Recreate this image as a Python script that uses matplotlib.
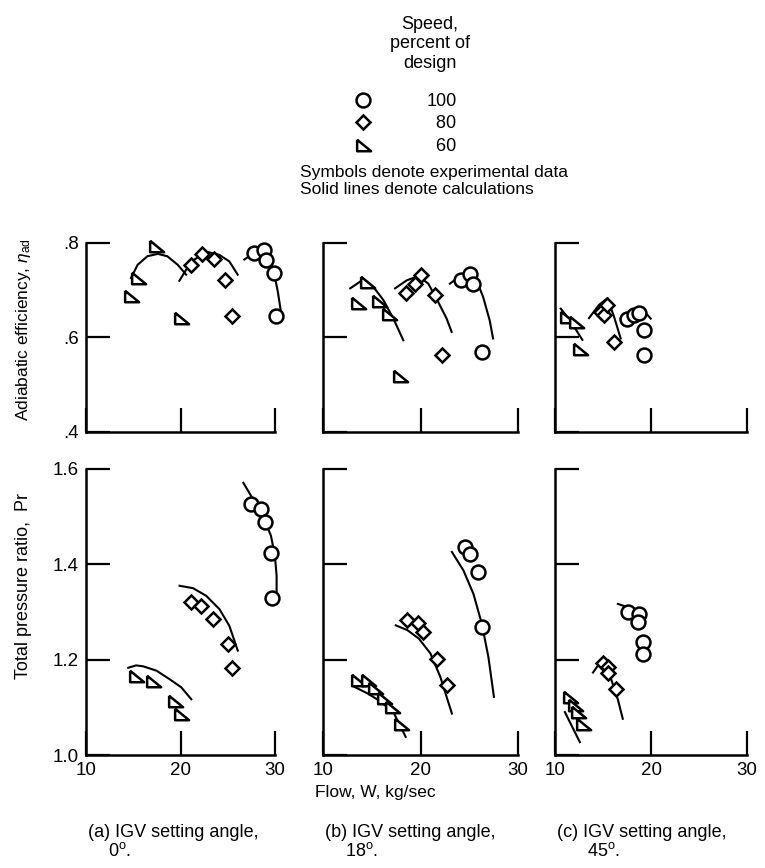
import matplotlib
matplotlib.use("Agg")
import matplotlib.pyplot as plt
from matplotlib.lines import Line2D

plt.rcParams['font.family'] = ['Liberation Sans', 'DejaVu Sans']
plt.rcParams['font.size'] = 13
plt.rcParams['mathtext.fontset'] = 'custom'
plt.rcParams['mathtext.rm'] = 'Liberation Sans'
plt.rcParams['mathtext.it'] = 'Liberation Sans:italic'

# ---- (a) IGV 0 deg ----
# efficiency: experimental points
a_eff_100_w = [27.8, 28.8, 29.0, 29.9, 30.1]
a_eff_100 = [0.779, 0.785, 0.765, 0.736, 0.646]
a_eff_80_w = [21.1, 22.3, 23.5, 24.7, 25.4]
a_eff_80 = [0.754, 0.777, 0.767, 0.722, 0.645]
a_eff_60_w = [17.4, 15.5, 14.8, 20.05]
a_eff_60 = [0.794, 0.726, 0.687, 0.642]
# efficiency: calculations
a_eff_100_cw = [26.75, 27.64, 28.52, 29.4, 29.93, 30.3, 30.6]
a_eff_100_c = [0.765, 0.777, 0.782, 0.765, 0.733, 0.697, 0.658]
a_eff_80_cw = [19.88, 20.58, 21.46, 22.87, 24.1, 25.17, 26.05]
a_eff_80_c = [0.720, 0.743, 0.765, 0.781, 0.775, 0.761, 0.733]
a_eff_60_cw = [14.76, 15.47, 16.5, 17.6, 18.6, 19.7, 20.6]
a_eff_60_c = [0.726, 0.754, 0.772, 0.777, 0.772, 0.754, 0.733]
# pressure ratio: experimental points
a_pr_100_w = [27.5, 28.5, 28.9, 29.6, 29.7]
a_pr_100 = [1.527, 1.517, 1.488, 1.424, 1.329]
a_pr_80_w = [21.1, 22.2, 23.4, 25.0, 25.4]
a_pr_80 = [1.320, 1.313, 1.285, 1.233, 1.182]
a_pr_60_w = [15.3, 17.1, 19.4, 20.0]
a_pr_60 = [1.166, 1.156, 1.114, 1.086]
# pressure ratio: calculations
a_pr_100_cw = [26.65, 27.64, 28.69, 29.57, 29.99, 30.17, 30.17]
a_pr_100_c = [1.571, 1.538, 1.502, 1.460, 1.418, 1.376, 1.334]
a_pr_80_cw = [19.9, 21.32, 22.72, 24.12, 25.17, 26.06]
a_pr_80_c = [1.355, 1.350, 1.334, 1.306, 1.271, 1.219]
a_pr_60_cw = [14.47, 15.3, 16.05, 17.45, 18.85, 20.08, 21.14]
a_pr_60_c = [1.183, 1.188, 1.186, 1.177, 1.159, 1.142, 1.117]

# ---- (b) IGV 18 deg ----
b_eff_100_w = [24.2, 25.1, 25.4, 26.3]
b_eff_100 = [0.721, 0.735, 0.714, 0.569]
b_eff_80_w = [18.5, 19.4, 20.1, 21.5, 22.2]
b_eff_80 = [0.694, 0.714, 0.732, 0.691, 0.564]
b_eff_60_w = [14.5, 13.6, 15.7, 16.8, 17.9]
b_eff_60 = [0.717, 0.673, 0.677, 0.649, 0.518]
b_eff_100_cw = [23.02, 24.04, 24.89, 25.75, 26.42, 27.1, 27.44]
b_eff_100_c = [0.714, 0.730, 0.734, 0.721, 0.686, 0.636, 0.598]
b_eff_80_cw = [17.39, 18.59, 19.78, 20.8, 21.82, 22.68, 23.19]
b_eff_80_c = [0.704, 0.721, 0.730, 0.714, 0.675, 0.640, 0.612]
b_eff_60_cw = [12.79, 14.15, 15.17, 16.2, 17.22, 18.24]
b_eff_60_c = [0.704, 0.723, 0.707, 0.679, 0.640, 0.594]
b_pr_100_w = [24.6, 25.1, 25.9, 26.35]
b_pr_100 = [1.436, 1.422, 1.384, 1.269]
b_pr_80_w = [18.65, 19.7, 20.3, 21.7, 22.7]
b_pr_80 = [1.283, 1.276, 1.258, 1.202, 1.147]
b_pr_60_w = [13.6, 14.6, 15.3, 16.3, 17.1, 18.0]
b_pr_60 = [1.157, 1.157, 1.140, 1.119, 1.101, 1.066]
b_pr_100_cw = [23.22, 24.41, 25.43, 26.28, 26.96, 27.53]
b_pr_100_c = [1.426, 1.387, 1.338, 1.276, 1.206, 1.122]
b_pr_80_cw = [17.46, 18.65, 19.84, 21.02, 22.03, 23.22]
b_pr_80_c = [1.272, 1.262, 1.244, 1.213, 1.164, 1.087]
b_pr_60_cw = [13.22, 14.58, 15.93, 17.29, 18.48]
b_pr_60_c = [1.143, 1.129, 1.112, 1.087, 1.038]

# ---- (c) IGV 45 deg ----
c_eff_100_w = [17.54, 18.23, 18.75, 19.27, 19.27]
c_eff_100 = [0.640, 0.648, 0.651, 0.616, 0.563]
c_eff_80_w = [14.76, 15.1, 15.46, 16.15]
c_eff_80 = [0.655, 0.648, 0.669, 0.591]
c_eff_60_w = [11.29, 12.16, 12.6]
c_eff_60 = [0.644, 0.632, 0.576]
c_eff_100_cw = [16.84, 17.89, 18.93, 19.97]
c_eff_100_c = [0.640, 0.655, 0.664, 0.640]
c_eff_80_cw = [13.54, 14.58, 15.46, 16.15, 16.84]
c_eff_80_c = [0.641, 0.669, 0.683, 0.644, 0.598]
c_eff_60_cw = [10.6, 11.64, 12.85]
c_eff_60_c = [0.661, 0.634, 0.595]
c_pr_100_w = [17.58, 18.79, 18.62, 19.13, 19.13]
c_pr_100 = [1.299, 1.296, 1.278, 1.238, 1.212]
c_pr_80_w = [14.99, 15.51, 15.51, 16.37]
c_pr_80 = [1.194, 1.184, 1.171, 1.139]
c_pr_60_w = [11.55, 12.07, 12.4, 12.93]
c_pr_60 = [1.121, 1.104, 1.090, 1.065]
c_pr_100_cw = [16.55, 17.58, 18.62]
c_pr_100_c = [1.317, 1.310, 1.299]
c_pr_80_cw = [13.96, 14.48, 15.17, 15.85, 16.54, 17.06]
c_pr_80_c = [1.173, 1.188, 1.188, 1.159, 1.117, 1.076]
c_pr_60_cw = [11.03, 11.72, 12.59]
c_pr_60_c = [1.090, 1.062, 1.027]

speeds = ['100', '80', '60']
captions = ['(a) IGV setting angle,\n    0$^{\\rm o}$.',
            '(b) IGV setting angle,\n    18$^{\\rm o}$.',
            '(c) IGV setting angle,\n      45$^{\\rm o}$.']
eff_ticks = [0.4, 0.6, 0.8]
eff_labels = ['.4', '.6', '.8']
pr_ticks = [1.0, 1.2, 1.4, 1.6]
pr_labels = ['1.0', '1.2', '1.4', '1.6']
flow_ticks = [10, 20, 30]

# triangle with vertical left side and flat bottom
tri = [(-0.5, 0.45), (-0.5, -0.45), (0.6, -0.45), (-0.5, 0.45)]
marks = {'100': dict(marker='o', ms=10),
         '80': dict(marker='D', ms=7.5),
         '60': dict(marker=tri, ms=11)}

panels = {
    'a': {'eff': [(a_eff_100_w, a_eff_100, a_eff_100_cw, a_eff_100_c),
                  (a_eff_80_w, a_eff_80, a_eff_80_cw, a_eff_80_c),
                  (a_eff_60_w, a_eff_60, a_eff_60_cw, a_eff_60_c)],
          'pr': [(a_pr_100_w, a_pr_100, a_pr_100_cw, a_pr_100_c),
                 (a_pr_80_w, a_pr_80, a_pr_80_cw, a_pr_80_c),
                 (a_pr_60_w, a_pr_60, a_pr_60_cw, a_pr_60_c)]},
    'b': {'eff': [(b_eff_100_w, b_eff_100, b_eff_100_cw, b_eff_100_c),
                  (b_eff_80_w, b_eff_80, b_eff_80_cw, b_eff_80_c),
                  (b_eff_60_w, b_eff_60, b_eff_60_cw, b_eff_60_c)],
          'pr': [(b_pr_100_w, b_pr_100, b_pr_100_cw, b_pr_100_c),
                 (b_pr_80_w, b_pr_80, b_pr_80_cw, b_pr_80_c),
                 (b_pr_60_w, b_pr_60, b_pr_60_cw, b_pr_60_c)]},
    'c': {'eff': [(c_eff_100_w, c_eff_100, c_eff_100_cw, c_eff_100_c),
                  (c_eff_80_w, c_eff_80, c_eff_80_cw, c_eff_80_c),
                  (c_eff_60_w, c_eff_60, c_eff_60_cw, c_eff_60_c)],
          'pr': [(c_pr_100_w, c_pr_100, c_pr_100_cw, c_pr_100_c),
                 (c_pr_80_w, c_pr_80, c_pr_80_cw, c_pr_80_c),
                 (c_pr_60_w, c_pr_60, c_pr_60_cw, c_pr_60_c)]},
}

fig = plt.figure(figsize=(7.65, 8.68), dpi=100)
W, H = 765.0, 868.0
lefts = [86, 323, 555]
widths = [189, 195, 192]


def style(ax, show_x, show_y):
    for s in ['top', 'right']:
        ax.spines[s].set_visible(False)
    for s in ['left', 'bottom']:
        ax.spines[s].set_linewidth(1.8)
    ax.tick_params(direction='in', length=17, width=1.6, pad=5,
                   labelsize=13.5, labelbottom=show_x, labelleft=show_y)
    ax.set_xlim(10, 30)
    ax.set_xticks(flow_ticks)
    if show_x:
        ax.set_xticklabels([str(t) for t in flow_ticks])


for i, key in enumerate(['a', 'b', 'c']):
    l = lefts[i] / W
    w = widths[i] / W
    ax1 = fig.add_axes([l, 436 / H, w, 189 / H])
    ax2 = fig.add_axes([l, 113 / H, w, 286 / H])
    style(ax1, False, i == 0)
    style(ax2, True, i == 0)
    ax1.set_ylim(0.4, 0.8)
    ax1.set_yticks(eff_ticks)
    ax2.set_ylim(1.0, 1.6)
    ax2.set_yticks(pr_ticks)
    if i == 0:
        ax1.set_yticklabels(eff_labels)
        ax2.set_yticklabels(pr_labels)
    for ax, row in [(ax1, 'eff'), (ax2, 'pr')]:
        for sp, (xw, yv, cw, cv) in zip(speeds, panels[key][row]):
            ax.plot(cw, cv, color='black', lw=1.5, clip_on=False)
            ax.plot(xw, yv, ls='none', mfc='white', mec='black', mew=1.8,
                    clip_on=False, zorder=3, **marks[sp])
    fig.text((lefts[i] + 2) / W, 1 - 842 / H, captions[i], ha='left',
             va='center', fontsize=13, linespacing=1.05)

fig.text(24 / W, 1 - 330 / H, 'Adiabatic efficiency, $\\eta_{\\rm ad}$',
         rotation=90, ha='center', va='center', fontsize=12.5)
fig.text(24 / W, 1 - 586 / H, 'Total pressure ratio,  Pr',
         rotation=90, ha='center', va='center', fontsize=13)
fig.text(375 / W, 1 - 793 / H, 'Flow, W, kg/sec', ha='center', va='center',
         fontsize=12.5)

# legend block
fig.text(430 / W, 1 - 44 / H, 'Speed,\npercent of\ndesign', ha='center',
         va='center', multialignment='center', linespacing=1.2)
handles = [Line2D([], [], ls='none', mfc='white', mec='black', mew=1.8,
                  **marks[sp]) for sp in speeds]
fig.legend(handles, ['100', '\u200780', '\u200760'], loc='center left',
           bbox_to_anchor=(354 / W, 1 - 124 / H), frameon=False,
           handlelength=1.0, handletextpad=3.0, labelspacing=0.3,
           borderpad=0, borderaxespad=0)
fig.text(300 / W, 1 - 173 / H, 'Symbols denote experimental data',
         ha='left', va='center', fontsize=12.5)
fig.text(300 / W, 1 - 190 / H, 'Solid lines denote calculations',
         ha='left', va='center', fontsize=12.5)

fig.savefig('out.png', dpi=100)
